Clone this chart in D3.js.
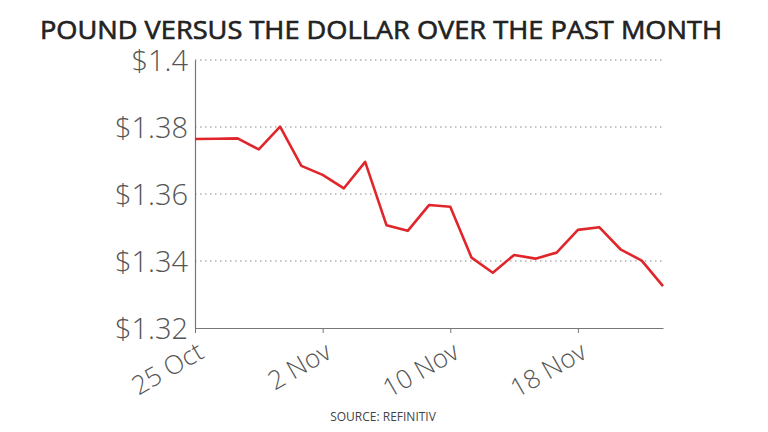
<!DOCTYPE html>
<html>
<head>
<meta charset="utf-8">
<script src="https://cdn.jsdelivr.net/npm/d3@7"></script>
<style>
  html, body { margin: 0; padding: 0; background: #fff; }
  svg { display: block; }
</style>
</head>
<body>
<svg id="chart" width="768" height="432"></svg>
<script>
// Trading days (weekdays) 25 Oct – 24 Nov 2021
const dates = ["2021-10-25","2021-10-26","2021-10-27","2021-10-28","2021-10-29",
  "2021-11-01","2021-11-02","2021-11-03","2021-11-04","2021-11-05",
  "2021-11-08","2021-11-09","2021-11-10","2021-11-11","2021-11-12",
  "2021-11-15","2021-11-16","2021-11-17","2021-11-18","2021-11-19",
  "2021-11-22","2021-11-23","2021-11-24"];
const values = [1.3764, 1.3765, 1.3766, 1.3733, 1.3801,
  1.3684, 1.3657, 1.3617, 1.3696, 1.3507,
  1.3490, 1.3567, 1.3562, 1.3410, 1.3365,
  1.3418, 1.3407, 1.3425, 1.3493, 1.3501,
  1.3435, 1.3401, 1.3325];
const yTicks = [1.32, 1.34, 1.36, 1.38, 1.4];
const yTickLabels = ["$1.32", "$1.34", "$1.36", "$1.38", "$1.4"];
const xTickDates = ["2021-10-25", "2021-11-02", "2021-11-10", "2021-11-18"];
const xTickLabels = ["25 Oct", "2 Nov", "10 Nov", "18 Nov"];
const title = "POUND VERSUS THE DOLLAR OVER THE PAST MONTH";
const source = "SOURCE: REFINITIV";

const svg = d3.select("#chart");
const mLeft = 195, mRight = 663, mTop = 60, mBottom = 328;

const x = d3.scalePoint().domain(dates).range([mLeft, mRight]);
const y = d3.scaleLinear().domain([1.32, 1.4]).range([mBottom, mTop]);

// Title
svg.append("text")
  .attr("x", 381).attr("y", 39)
  .attr("text-anchor", "middle")
  .attr("font-family", "'Open Sans', sans-serif")
  .attr("font-weight", 400)
  .attr("font-size", 25)
  .attr("fill", "#222")
  .attr("stroke", "#222")
  .attr("stroke-width", 0.6)
  .attr("textLength", 682)
  .attr("lengthAdjust", "spacingAndGlyphs")
  .text(title);

// Gridlines
svg.append("g")
  .selectAll("line")
  .data(yTicks.filter(d => d !== 1.32))
  .join("line")
  .attr("x1", mLeft).attr("x2", mRight)
  .attr("y1", d => y(d)).attr("y2", d => y(d))
  .attr("stroke", "#888")
  .attr("stroke-width", 1)
  .attr("stroke-dasharray", "1.5,3.5");

// Y axis
const yAxis = d3.axisLeft(y)
  .tickValues(yTicks)
  .tickFormat((d, i) => yTickLabels[i])
  .tickSize(0)
  .tickPadding(7);
const gy = svg.append("g").attr("transform", `translate(${mLeft},0)`).call(yAxis);
gy.select(".domain").attr("stroke", "#777").attr("stroke-width", 1.2);
gy.selectAll("text")
  .attr("font-family", "'Open Sans', sans-serif")
  .attr("font-weight", 300)
  .attr("font-size", 29)
  .attr("fill", "#555")
  .attr("dy", "0.35em");

// X axis
const xAxis = d3.axisBottom(x)
  .tickValues(xTickDates)
  .tickFormat((d, i) => xTickLabels[i])
  .tickSize(5)
  .tickSizeOuter(0);
const gx = svg.append("g").attr("transform", `translate(0,${mBottom})`).call(xAxis);
gx.select(".domain").attr("stroke", "#777").attr("stroke-width", 1.2);
gx.selectAll(".tick line").attr("stroke", "#777");
gx.selectAll("text")
  .attr("font-family", "'Open Sans', sans-serif")
  .attr("font-weight", 300)
  .attr("font-size", 26)
  .attr("fill", "#555")
  .attr("text-anchor", "end")
  .attr("dy", null)
  .attr("y", 0)
  .attr("transform", "translate(10,29) rotate(-30)");

// Line
const line = d3.line()
  .x((d, i) => x(dates[i]))
  .y(d => y(d));
svg.append("path")
  .datum(values)
  .attr("d", line)
  .attr("fill", "none")
  .attr("stroke", "#e1262b")
  .attr("stroke-width", 2.6)
  .attr("stroke-linejoin", "round");

// Source
svg.append("text")
  .attr("x", 383).attr("y", 421)
  .attr("text-anchor", "middle")
  .attr("font-family", "'Open Sans', sans-serif")
  .attr("font-size", 12)
  .attr("fill", "#444")
  .text(source);
</script>
</body>
</html>
